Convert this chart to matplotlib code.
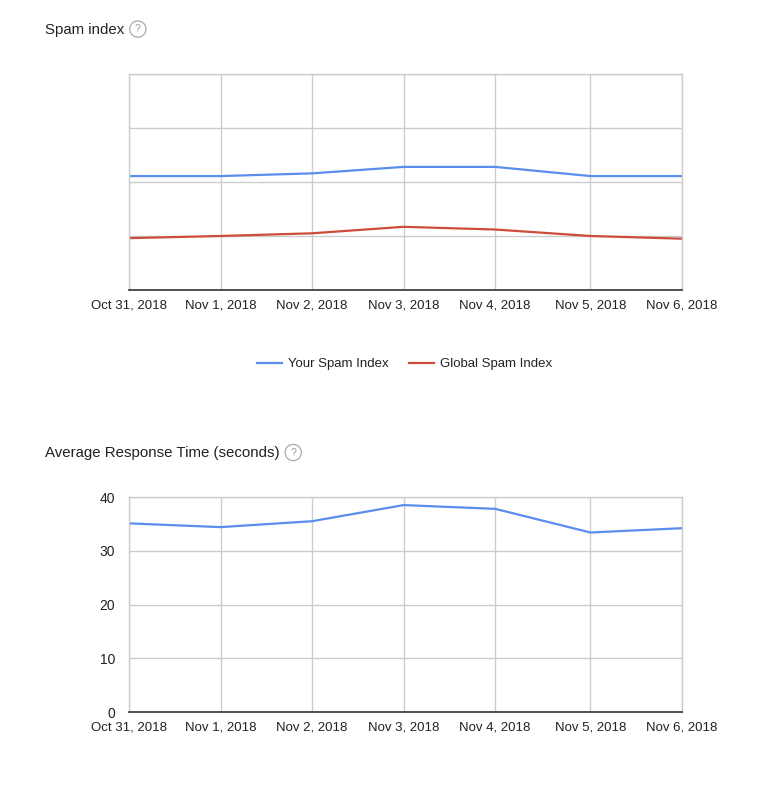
import matplotlib
matplotlib.use("Agg")
import matplotlib.pyplot as plt
from matplotlib.lines import Line2D

plt.rcParams['font.family'] = ['Liberation Sans', 'DejaVu Sans']

# days shown on both charts; hours from Oct 31 (Nov 4 is 25h, DST ends)
day_labels = ["Oct 31, 2018", "Nov 1, 2018", "Nov 2, 2018", "Nov 3, 2018",
              "Nov 4, 2018", "Nov 5, 2018", "Nov 6, 2018"]
day_hours = [0, 24, 48, 72, 96, 121, 145]

# spam index (no y labels shown in the source)
your_spam = [2.11, 2.11, 2.16, 2.28, 2.28, 2.11, 2.11]
global_spam = [0.96, 1.00, 1.05, 1.17, 1.12, 1.00, 0.95]

# average response time, seconds
resp_time = [35.1, 34.4, 35.5, 38.5, 37.8, 33.4, 34.2]

BLUE = "#5b8def"
RED = "#cf4b3b"
GRID = "#cccccc"
TXT = "#222222"

fig = plt.figure(figsize=(7.69, 7.96), dpi=100)


def style_axes(ax, ymax, step, show_y):
    ax.set_xlim(day_hours[0], day_hours[-1])
    ax.set_ylim(0, ymax)
    ax.set_xticks(day_hours)
    ax.set_xticklabels(day_labels)
    ax.set_yticks(range(0, ymax + 1, step))
    if not show_y:
        ax.set_yticklabels([])
    ax.grid(True, color=GRID, linewidth=1)
    ax.set_axisbelow(True)
    for s in ["top", "left", "right"]:
        ax.spines[s].set_color(GRID)
        ax.spines[s].set_linewidth(1)
    ax.spines["bottom"].set_color("#333333")
    ax.spines["bottom"].set_linewidth(1.2)
    ax.tick_params(axis="both", length=0, labelsize=9.5, colors=TXT)
    ax.tick_params(axis="x", pad=6.5)
    ax.tick_params(axis="y", pad=10, labelsize=10)


def title_with_help(x, y, text):
    t = fig.text(x, y, text, fontsize=10.8, color=TXT, va="center", ha="left")
    fig.canvas.draw()
    bb = t.get_window_extent()
    fx = (bb.x1 + 14) / fig.bbox.width
    fig.text(fx, y + 0.001, "?", fontsize=7.5, color="#999999", ha="center", va="center",
             bbox=dict(boxstyle="circle,pad=0.3", fc="white", ec="#aaaaaa", lw=0.9))


# spam index chart
ax1 = fig.add_axes([0.1677, 0.6357, 0.7192, 0.2713])
ax1.plot(day_hours, your_spam, color=BLUE, lw=1.6)
ax1.plot(day_hours, global_spam, color=RED, lw=1.6)
style_axes(ax1, 4, 1, False)

handles = [Line2D([], [], color=BLUE, lw=1.6), Line2D([], [], color=RED, lw=1.6)]
fig.legend(handles, ["Your Spam Index", "Global Spam Index"], loc="center",
           bbox_to_anchor=(0.526, 0.5425), ncol=2, frameon=False, fontsize=9.5,
           handlelength=1.9, handletextpad=0.45, columnspacing=1.6, labelcolor=TXT)

# response time chart
ax2 = fig.add_axes([0.1677, 0.1055, 0.7192, 0.2701])
ax2.plot(day_hours, resp_time, color=BLUE, lw=1.6)
style_axes(ax2, 40, 10, True)

title_with_help(0.058, 0.9625, "Spam index")
title_with_help(0.058, 0.4305, "Average Response Time (seconds)")

fig.savefig("out.png", dpi=100, facecolor="white")
